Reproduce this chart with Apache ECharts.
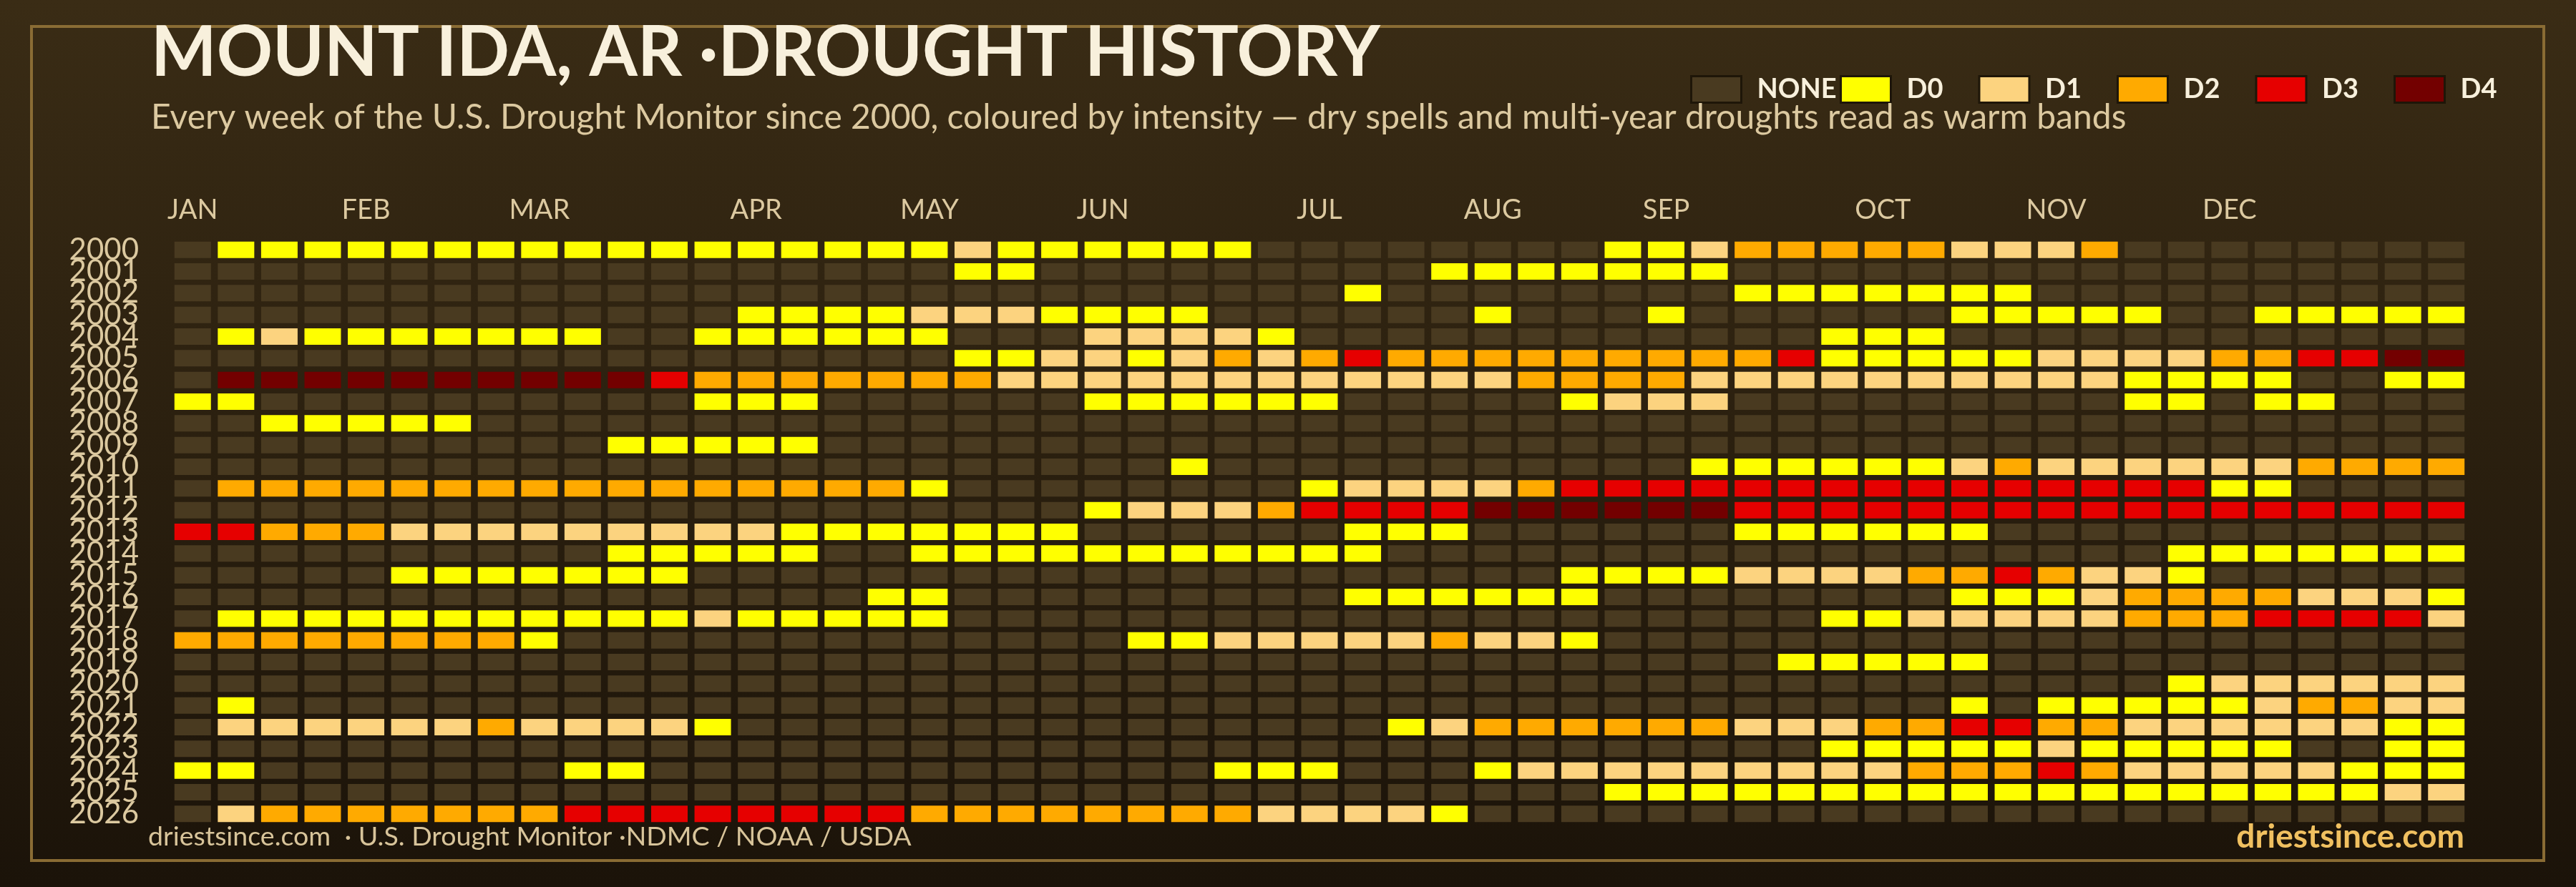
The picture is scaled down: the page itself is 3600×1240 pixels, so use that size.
<!DOCTYPE html>
<html><head><meta charset="utf-8">
<script src="https://cdn.jsdelivr.net/npm/echarts@6/dist/echarts.min.js"></script>
<style>html,body{margin:0;padding:0;background:#2a1f10}#c{width:3600px;height:1240px}</style>
</head><body><div id="c"></div>
<script>
// ---- DATA ----
// drought level per week: 0 = NONE, 1 = D0, 2 = D1, 3 = D2, 4 = D3, 5 = D4
const levelNames = ['NONE', 'D0', 'D1', 'D2', 'D3', 'D4'];
const levelColors = ['#493a20', '#ffff00', '#fcd37f', '#ffaa00', '#e60000', '#730000'];
const years = ['2000','2001','2002','2003','2004','2005','2006','2007','2008','2009','2010','2011','2012','2013',
               '2014','2015','2016','2017','2018','2019','2020','2021','2022','2023','2024','2025','2026'];
const monthLabels = ['JAN','FEB','MAR','APR','MAY','JUN','JUL','AUG','SEP','OCT','NOV','DEC'];
const monthWeeks = [0, 4, 8, 13, 17, 21, 26, 30, 34, 39, 43, 47];

const d2000 = [0,1,1,1,1,1,1,1,1,1, 1,1,1,1,1,1,1,1,2,1, 1,1,1,1,1,0,0,0,0,0, 0,0,0,1,1,2,3,3,3,3, 3,2,2,2,3,0,0,0,0,0, 0,0,0];
const d2001 = [0,0,0,0,0,0,0,0,0,0, 0,0,0,0,0,0,0,0,1,1, 0,0,0,0,0,0,0,0,0,1, 1,1,1,1,1,1,0,0,0,0, 0,0,0,0,0,0,0,0,0,0, 0,0,0];
const d2002 = [0,0,0,0,0,0,0,0,0,0, 0,0,0,0,0,0,0,0,0,0, 0,0,0,0,0,0,0,1,0,0, 0,0,0,0,0,0,1,1,1,1, 1,1,1,0,0,0,0,0,0,0, 0,0,0];
const d2003 = [0,0,0,0,0,0,0,0,0,0, 0,0,0,1,1,1,1,2,2,2, 1,1,1,1,0,0,0,0,0,0, 1,0,0,0,1,0,0,0,0,0, 0,1,1,1,1,1,0,0,1,1, 1,1,1];
const d2004 = [0,1,2,1,1,1,1,1,1,1, 0,0,1,1,1,1,1,1,0,0, 0,2,2,2,2,1,0,0,0,0, 0,0,0,0,0,0,0,0,1,1, 1,0,0,0,0,0,0,0,0,0, 0,0,0];
const d2005 = [0,0,0,0,0,0,0,0,0,0, 0,0,0,0,0,0,0,0,1,1, 2,2,1,2,3,2,3,4,3,3, 3,3,3,3,3,3,3,4,1,1, 1,1,1,2,2,2,2,3,3,4, 4,5,5];
const d2006 = [0,5,5,5,5,5,5,5,5,5, 5,4,3,3,3,3,3,3,3,2, 2,2,2,2,2,2,2,2,2,2, 2,3,3,3,3,2,2,2,2,2, 2,2,2,2,2,1,1,1,1,0, 0,1,1];
const d2007 = [1,1,0,0,0,0,0,0,0,0, 0,0,1,1,1,0,0,0,0,0, 0,1,1,1,1,1,1,0,0,0, 0,0,1,2,2,2,0,0,0,0, 0,0,0,0,0,1,1,0,1,1, 0,0,0];
const d2008 = [0,0,1,1,1,1,1,0,0,0, 0,0,0,0,0,0,0,0,0,0, 0,0,0,0,0,0,0,0,0,0, 0,0,0,0,0,0,0,0,0,0, 0,0,0,0,0,0,0,0,0,0, 0,0,0];
const d2009 = [0,0,0,0,0,0,0,0,0,0, 1,1,1,1,1,0,0,0,0,0, 0,0,0,0,0,0,0,0,0,0, 0,0,0,0,0,0,0,0,0,0, 0,0,0,0,0,0,0,0,0,0, 0,0,0];
const d2010 = [0,0,0,0,0,0,0,0,0,0, 0,0,0,0,0,0,0,0,0,0, 0,0,0,1,0,0,0,0,0,0, 0,0,0,0,0,1,1,1,1,1, 1,2,3,2,2,2,2,2,2,3, 3,3,3];
const d2011 = [0,3,3,3,3,3,3,3,3,3, 3,3,3,3,3,3,3,1,0,0, 0,0,0,0,0,0,1,2,2,2, 2,3,4,4,4,4,4,4,4,4, 4,4,4,4,4,4,4,1,1,0, 0,0,0];
const d2012 = [0,0,0,0,0,0,0,0,0,0, 0,0,0,0,0,0,0,0,0,0, 0,1,2,2,2,3,4,4,4,4, 5,5,5,5,5,5,4,4,4,4, 4,4,4,4,4,4,4,4,4,4, 4,4,4];
const d2013 = [4,4,3,3,3,2,2,2,2,2, 2,2,2,2,1,1,1,1,1,1, 1,0,0,0,0,0,0,1,1,1, 0,0,0,0,0,0,1,1,1,1, 1,1,0,0,0,0,0,0,0,0, 0,0,0];
const d2014 = [0,0,0,0,0,0,0,0,0,0, 1,1,1,1,1,0,0,1,1,1, 1,1,1,1,1,1,1,1,0,0, 0,0,0,0,0,0,0,0,0,0, 0,0,0,0,0,0,1,1,1,1, 1,1,1];
const d2015 = [0,0,0,0,0,1,1,1,1,1, 1,1,0,0,0,0,0,0,0,0, 0,0,0,0,0,0,0,0,0,0, 0,0,1,1,1,1,2,2,2,2, 3,3,4,3,2,2,1,0,0,0, 0,0,0];
const d2016 = [0,0,0,0,0,0,0,0,0,0, 0,0,0,0,0,0,1,1,0,0, 0,0,0,0,0,0,0,1,1,1, 1,1,1,0,0,0,0,0,0,0, 0,1,1,1,2,3,3,3,3,2, 2,2,1];
const d2017 = [0,1,1,1,1,1,1,1,1,1, 1,1,2,1,1,1,1,1,0,0, 0,0,0,0,0,0,0,0,0,0, 0,0,0,0,0,0,0,0,1,1, 2,2,2,2,2,3,3,3,4,4, 4,4,2];
const d2018 = [3,3,3,3,3,3,3,3,1,0, 0,0,0,0,0,0,0,0,0,0, 0,0,1,1,2,2,2,2,2,3, 2,2,1,0,0,0,0,0,0,0, 0,0,0,0,0,0,0,0,0,0, 0,0,0];
const d2019 = [0,0,0,0,0,0,0,0,0,0, 0,0,0,0,0,0,0,0,0,0, 0,0,0,0,0,0,0,0,0,0, 0,0,0,0,0,0,0,1,1,1, 1,1,0,0,0,0,0,0,0,0, 0,0,0];
const d2020 = [0,0,0,0,0,0,0,0,0,0, 0,0,0,0,0,0,0,0,0,0, 0,0,0,0,0,0,0,0,0,0, 0,0,0,0,0,0,0,0,0,0, 0,0,0,0,0,0,1,2,2,2, 2,2,2];
const d2021 = [0,1,0,0,0,0,0,0,0,0, 0,0,0,0,0,0,0,0,0,0, 0,0,0,0,0,0,0,0,0,0, 0,0,0,0,0,0,0,0,0,0, 0,1,0,1,1,1,1,1,2,3, 3,2,2];
const d2022 = [0,2,2,2,2,2,2,3,2,2, 2,2,1,0,0,0,0,0,0,0, 0,0,0,0,0,0,0,0,1,2, 3,3,3,3,3,3,2,2,2,3, 3,4,4,3,3,2,2,2,2,2, 2,1,1];
const d2023 = [0,0,0,0,0,0,0,0,0,0, 0,0,0,0,0,0,0,0,0,0, 0,0,0,0,0,0,0,0,0,0, 0,0,0,0,0,0,0,0,1,1, 1,1,1,2,1,1,1,1,1,0, 0,1,1];
const d2024 = [1,1,0,0,0,0,0,0,0,1, 1,0,0,0,0,0,0,0,0,0, 0,0,0,0,1,1,1,0,0,0, 1,2,2,2,2,2,2,2,2,2, 3,3,3,4,3,2,2,2,2,2, 1,1,1];
const d2025 = [0,0,0,0,0,0,0,0,0,0, 0,0,0,0,0,0,0,0,0,0, 0,0,0,0,0,0,0,0,0,0, 0,0,0,1,1,1,1,1,1,1, 1,1,1,1,1,1,1,1,1,1, 1,2,2];
const d2026 = [0,2,3,3,3,3,3,3,3,4, 4,4,4,4,4,4,4,3,3,3, 3,3,3,3,3,2,2,2,2,1, 0,0,0,0,0,0,0,0,0,0, 0,0,0,0,0,0,0,0,0,0, 0,0,0];

const rows = [d2000,d2001,d2002,d2003,d2004,d2005,d2006,d2007,d2008,d2009,d2010,d2011,d2012,d2013,
              d2014,d2015,d2016,d2017,d2018,d2019,d2020,d2021,d2022,d2023,d2024,d2025,d2026];

const TITLE = 'MOUNT IDA, AR \u00b7DROUGHT HISTORY';
const SUBTITLE = 'Every week of the U.S. Drought Monitor since 2000, coloured by intensity \u2014 dry spells and multi-year droughts read as warm bands';
const FOOT_L = 'driestsince.com  \u00b7 U.S. Drought Monitor \u00b7NDMC / NOAA / USDA';
const FOOT_R = 'driestsince.com';

// ---- CHART ----
const weekCats = rows[0].map((_, i) => String(i + 1));
const FONT = 'Lato';

function renderCell(params, api) {
  const c = api.coord([api.value(0), api.value(1)]);
  const s = api.size([1, 1]);
  const w = s[0] * 0.842, h = s[1] * 0.758;
  return { type: 'rect', shape: { x: c[0] - w / 2, y: c[1] - h / 2, width: w, height: h },
           style: { fill: api.visual('color') } };
}

const series = levelNames.map((name, L) => {
  const data = [];
  rows.forEach((r, yi) => r.forEach((v, wi) => { if (v === L) data.push([wi, yi]); }));
  return { type: 'custom', name, renderItem: renderCell, data, encode: { x: 0, y: 1 },
           itemStyle: { color: levelColors[L] }, animation: false };
});

const legendText = { color: '#f8f0dc', fontSize: 38, fontWeight: 'bold', fontFamily: FONT, padding: [0, 0, 0, 17] };
const chart = echarts.init(document.getElementById('c'), null, { renderer: 'canvas' });
chart.setOption({
  animation: false,
  backgroundColor: new echarts.graphic.LinearGradient(0, 0, 0, 1, [
    { offset: 0, color: '#3a2c15' }, { offset: 1, color: '#1b1309' }]),
  textStyle: { fontFamily: FONT },
  graphic: [{ type: 'rect', silent: true, z: 1,
    shape: { x: 44, y: 37, width: 3511, height: 1166 },
    style: { fill: 'none', stroke: '#8a6c34', lineWidth: 4 } }],
  title: [
    { text: TITLE, left: 211, top: 26, padding: 0,
      textStyle: { fontFamily: FONT, fontWeight: 'bold', fontSize: 97, color: '#f8f0dc' } },
    { text: SUBTITLE, left: 211, top: 141, padding: 0,
      textStyle: { fontFamily: FONT, fontWeight: 'normal', fontSize: 48, color: '#dcc9a0' } },
    { text: FOOT_L, left: 207, top: 1151, padding: 0,
      textStyle: { fontFamily: FONT, fontWeight: 'normal', fontSize: 37.5, color: '#d8c49a' } },
    { text: FOOT_R, right: 156, top: 1147, padding: 0,
      textStyle: { fontFamily: FONT, fontWeight: 'bold', fontSize: 46, color: '#f0c060' } }
  ],
  legend: [
    { data: ['NONE'], left: 2362, top: 105, padding: 0, icon: 'rect', itemWidth: 70, itemHeight: 37,
      itemStyle: { borderColor: '#1e1608', borderWidth: 3 }, textStyle: legendText, selectedMode: false },
    { data: ['D0', 'D1', 'D2', 'D3', 'D4'], left: 2571, top: 105, padding: 0, icon: 'rect',
      itemWidth: 70, itemHeight: 37, itemGap: 45,
      itemStyle: { borderColor: '#1e1608', borderWidth: 3 },
      textStyle: Object.assign({}, legendText, { width: 55, backgroundColor: 'rgba(0,0,0,0)' }), selectedMode: false }
  ],
  grid: { left: 239, right: 151, top: 334, bottom: 87, containLabel: false },
  xAxis: {
    type: 'category', data: weekCats, position: 'top',
    axisLine: { show: false }, axisTick: { show: false }, splitLine: { show: false },
    axisLabel: {
      color: '#dcc9a0', fontSize: 38, fontFamily: FONT, margin: 21,
      interval: (i) => monthWeeks.indexOf(i) >= 0,
      formatter: (v, i) => { const k = monthWeeks.indexOf(i); return k >= 0 ? monthLabels[k] : ''; }
    }
  },
  yAxis: {
    type: 'category', data: years, inverse: true,
    axisLine: { show: false }, axisTick: { show: false }, splitLine: { show: false },
    axisLabel: { color: '#dcc9a0', fontSize: 42, fontFamily: FONT, margin: 45, interval: 0 }
  },
  series
});
</script></body></html>
